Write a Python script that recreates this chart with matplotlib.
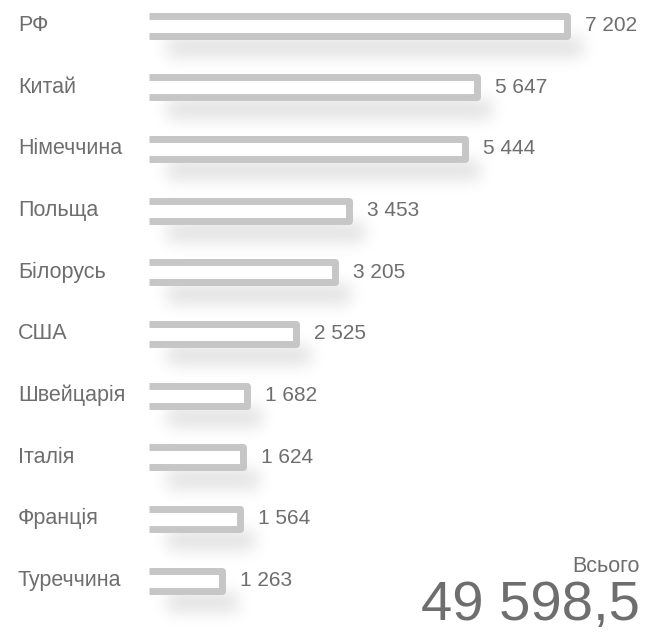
import numpy as np
import matplotlib
matplotlib.use("Agg")
import matplotlib.pyplot as plt

plt.rcParams['font.family'] = ['Liberation Sans', 'DejaVu Sans']

countries = ["РФ", "Китай", "Німеччина", "Польща", "Білорусь", "США",
             "Швейцарія", "Італія", "Франція", "Туреччина"]
values = [7202, 5647, 5444, 3453, 3205, 2525, 1682, 1624, 1564, 1263]
total_label = "Всього"
total_value = 49598.5

W, H, DPI = 646, 632, 100
TEXT = "#6e6e6e"
STROKE = "#c6c6c6"


def fmt(v, decimals=0):
    s = f"{v:,.{decimals}f}"
    return s.replace(",", " ").replace(".", ",")


fig = plt.figure(figsize=(W / DPI, H / DPI), dpi=DPI)
fig.patch.set_facecolor("white")

# background axes in pixel space, used for the soft shadows and text
bg = fig.add_axes([0, 0, 1, 1], zorder=0)
bg.set_xlim(0, W)
bg.set_ylim(H, 0)
bg.axis("off")

# data axes: bars start at x=149 px
left_px = 149
px_per_unit = 418 / 7202
ax = fig.add_axes([left_px / W, 0, (W - left_px) / W, 1], zorder=1)
ax.patch.set_alpha(0)
ax.set_xlim(0, (W - left_px) / px_per_unit)
row = 61.67
ax.set_ylim((H - 25.5) / row, -25.5 / row)
ax.axis("off")

n = len(countries)
ypos = np.arange(n)
half = 10 / row  # half distance between top and bottom strokes


def to_px(x, y):
    dx, dy = ax.transData.transform((x, y))
    return dx, H - dy


# soft drop shadow under each bar, built in pixel space
mask = np.zeros((H, W))
for y, v in zip(ypos, values):
    x0, yc = to_px(0, y)
    x1, _ = to_px(v, y)
    mask[int(yc) + 12:int(yc) + 32, int(x0) + 18:int(x1) + 16] = 1.0

sigma = 8.0
k = np.arange(-28, 29)
kern = np.exp(-k ** 2 / (2 * sigma ** 2))
kern /= kern.sum()
blur = np.apply_along_axis(lambda r: np.convolve(r, kern, mode="same"), 1, mask)
blur = np.apply_along_axis(lambda c: np.convolve(c, kern, mode="same"), 0, blur)
rgba = np.zeros((H, W, 4))
rgba[..., 3] = blur * 0.12
bg.imshow(rgba, extent=[0, W, H, 0], interpolation="bilinear", zorder=0)

# bar outlines: open on the left, rounded on the right
for y, v in zip(ypos, values):
    ax.fill_between([0, v], y - half, y + half, color="white", lw=0, zorder=1)
    ax.plot([0, v, v, 0], [y - half, y - half, y + half, y + half],
            color=STROKE, lw=5.0, solid_joinstyle="round",
            solid_capstyle="butt", zorder=2)
    ax.annotate(fmt(v), xy=(v, y), xytext=(13, 0), textcoords="offset points",
                ha="left", va="center", fontsize=15, color=TEXT)

for y, c in zip(ypos, countries):
    bg.text(18, to_px(0, y)[1], c, ha="left", va="center",
            fontsize=15.5, color=TEXT)

bg.text(640, 566, total_label, ha="right", va="center", fontsize=15.5, color=TEXT)
bg.text(640, 606, fmt(total_value, 1), ha="right", va="center",
        fontsize=40.5, color=TEXT)

fig.savefig("out.png", dpi=DPI, facecolor="white")
